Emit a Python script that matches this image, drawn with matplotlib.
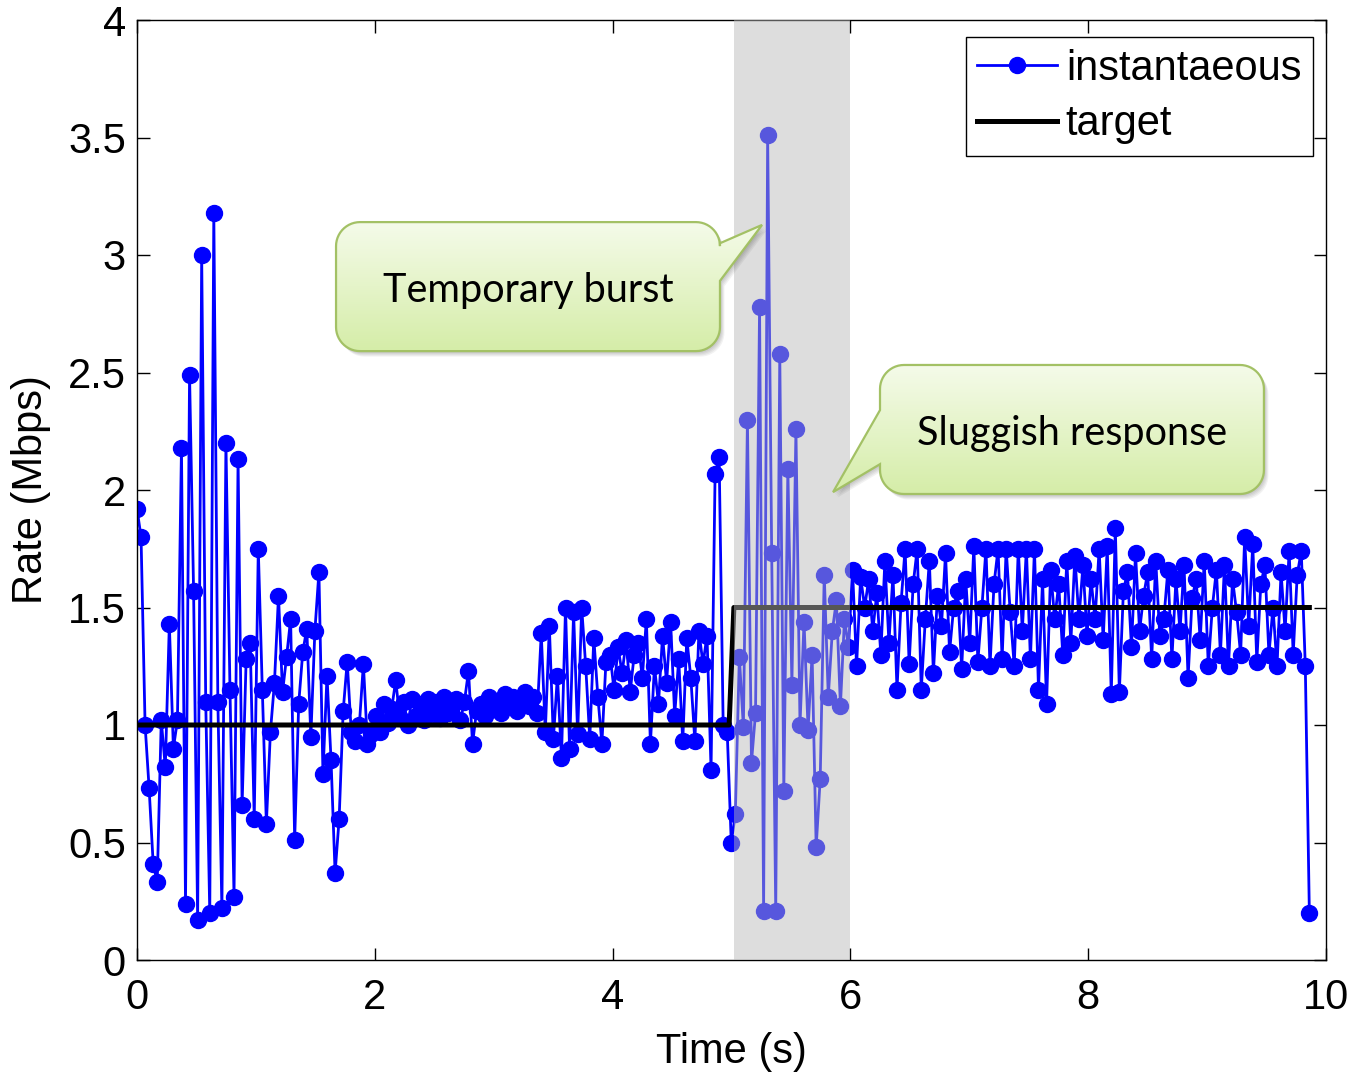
import numpy as np
import matplotlib
matplotlib.use('Agg')
import matplotlib.pyplot as plt
from matplotlib.patches import Polygon
from matplotlib.colors import LinearSegmentedColormap

# sampled rate (Mbps), one sample every sample_dt seconds
sample_dt = 0.034
rate_start = [1.92, 1.80, 1.00, 0.73, 0.41, 0.33, 1.02, 0.82, 1.43, 0.90,
              1.02, 2.18, 0.24, 2.49, 1.57, 0.17, 3.00, 1.10, 0.20, 3.18,
              1.10, 0.22, 2.20, 1.15, 0.27, 2.13, 0.66, 1.28, 1.35, 0.60,
              1.75, 1.15, 0.58, 0.97]
rate_settle = [1.18, 1.55, 1.14, 1.29, 1.45, 0.51, 1.09, 1.31, 1.41, 0.95,
               1.40, 1.65, 0.79, 1.21, 0.85, 0.37, 0.60, 1.06]
rate_steady1 = [1.27, 0.97, 0.93, 1.00, 1.26, 0.92, 0.96, 1.04, 0.97, 1.09,
                1.01, 1.07, 1.19, 1.03, 1.10, 1.00, 1.11, 1.04, 1.09, 1.02,
                1.11, 1.06, 1.10, 1.03, 1.12, 1.05, 1.08, 1.11, 1.02, 1.10,
                1.23, 0.92, 1.06, 1.09, 1.04, 1.12, 1.07, 1.10, 1.05, 1.13,
                1.08, 1.12, 1.06, 1.11, 1.14, 1.08, 1.12, 1.05]
rate_wobble = [1.39, 0.97, 1.42, 0.94, 1.21, 0.86, 1.50, 0.90, 1.48, 0.96,
               1.50, 1.25, 0.94, 1.37, 1.12, 0.92, 1.27, 1.30, 1.15, 1.33,
               1.22, 1.36, 1.14, 1.30, 1.35, 1.20, 1.45, 0.92, 1.25, 1.09,
               1.38, 1.18, 1.44, 1.04, 1.28, 0.93, 1.37, 1.20, 0.93, 1.40,
               1.26, 1.38, 0.81, 2.07, 2.14, 1.00, 0.97]
rate_burst = [0.50, 0.62, 1.29, 0.99, 2.30, 0.84, 1.05, 2.78, 0.21, 3.51,
              1.73, 0.21, 2.58, 0.72, 2.09, 1.17, 2.26, 1.00, 1.44, 0.98,
              1.30, 0.48, 0.77, 1.64, 1.12, 1.40, 1.53, 1.08, 1.45, 1.33]
rate_steady2 = [1.66, 1.25, 1.63, 1.50, 1.62, 1.40, 1.56, 1.30, 1.70, 1.35,
                1.64, 1.15, 1.52, 1.75, 1.26, 1.60, 1.75, 1.15, 1.45, 1.70,
                1.22, 1.55, 1.42, 1.73, 1.31, 1.50, 1.57, 1.24, 1.62, 1.35,
                1.76, 1.27, 1.50, 1.75, 1.25, 1.60, 1.75, 1.28, 1.75, 1.48,
                1.25, 1.75, 1.40, 1.75, 1.28, 1.75, 1.15, 1.62, 1.09, 1.66,
                1.45, 1.60, 1.30, 1.70, 1.35, 1.72, 1.45, 1.68, 1.38, 1.62,
                1.45, 1.75, 1.36, 1.76, 1.13, 1.84, 1.14, 1.57, 1.65, 1.33,
                1.73, 1.40, 1.55, 1.65, 1.28, 1.70, 1.38, 1.45, 1.66, 1.28,
                1.62, 1.40, 1.68, 1.20, 1.54, 1.62, 1.36, 1.70, 1.25, 1.50,
                1.66, 1.30, 1.68, 1.25, 1.62, 1.48, 1.30, 1.80, 1.42, 1.77,
                1.27, 1.60, 1.68, 1.30, 1.50, 1.25, 1.65, 1.40, 1.74, 1.30,
                1.64, 1.74, 1.25, 0.20]

target_t = [0, 4.98, 5.02, 9.86]
target_rate = [1.0, 1.0, 1.5, 1.5]

burst_window = (5.02, 6.0)

rate = np.array(rate_start + rate_settle + rate_steady1 + rate_wobble
                + rate_burst + rate_steady2)
t = np.arange(len(rate)) * sample_dt

plt.rcParams['font.family'] = ['Liberation Sans', 'DejaVu Sans']
FS = 30

fig = plt.figure(figsize=(13.53, 10.72), dpi=100)
ax = fig.add_axes([137 / 1353, 1 - 960 / 1072, 1189 / 1353, 940 / 1072])

ax.plot(t, rate, '-o', color='#0000ff', lw=2.0, ms=11.5, mec='#0000ff',
        label='instantaeous', zorder=2)
ax.plot(target_t, target_rate, color='black', lw=3.6, label='target', zorder=2.5)
ax.axvspan(*burst_window, color=(0.72, 0.72, 0.72), alpha=0.48, lw=0, zorder=3)

ax.set_xlim(0, 10)
ax.set_ylim(0, 4)
ax.set_xticks(np.arange(0, 11, 2))
ax.set_yticks(np.arange(0, 4.01, 0.5))
ax.set_yticklabels(['0', '0.5', '1', '1.5', '2', '2.5', '3', '3.5', '4'])
ax.tick_params(direction='in', length=9, width=1, top=True, right=True,
               labelsize=FS)
ax.tick_params(axis='x', pad=13)
ax.tick_params(axis='y', pad=8)
ax.set_xlabel('Time (s)', fontsize=FS, labelpad=10)
ax.set_ylabel('Rate (Mbps)', fontsize=FS, labelpad=12)
for s in ax.spines.values():
    s.set_linewidth(1)

leg = ax.legend(loc='upper right', bbox_to_anchor=(0.989, 0.982),
                borderaxespad=0, fontsize=FS, fancybox=False, framealpha=1,
                edgecolor='black', handlelength=1.9, handletextpad=0.22,
                labelspacing=0.38, borderpad=0.28)
leg.get_frame().set_linewidth(1)
leg.set_zorder(5)


def callout(ax, box, tip, base, side, label, r=24):
    x0, y0, x1, y1 = box
    p0 = ax.transData.transform((0, 0))
    p1 = ax.transData.transform((1, 1))
    sx, sy = p1[0] - p0[0], p1[1] - p0[1]
    rx, ry = r / sx, r / sy

    def arc(cx, cy, a0, a1):
        a = np.radians(np.linspace(a0, a1, 14))
        return list(zip(cx + rx * np.cos(a), cy + ry * np.sin(a)))

    pts = arc(x1 - rx, y1 - ry, 90, 0)
    if side == 'right':
        pts += [(x1, base[0]), tip, (x1, base[1])]
    pts += arc(x1 - rx, y0 + ry, 0, -90)
    pts += arc(x0 + rx, y0 + ry, -90, -180)
    if side == 'left':
        pts += [(x0, base[1]), tip, (x0, base[0])]
    pts += arc(x0 + rx, y1 - ry, 180, 90)
    pts = np.array(pts)

    # soft shadow
    for k in range(1, 6):
        ax.add_patch(Polygon(pts + [k * 0.9 / sx, -k * 1.1 / sy], closed=True,
                             fc='black', ec='none', alpha=0.05, zorder=6))
    cmap = LinearSegmentedColormap.from_list('g', ['#d5eda8', '#f5fbea'])
    grad = np.linspace(0, 1, 256)[:, None]
    im = ax.imshow(grad, extent=(pts[:, 0].min(), pts[:, 0].max(),
                                 pts[:, 1].min(), pts[:, 1].max()),
                   origin='lower', cmap=cmap, aspect='auto', zorder=7)
    poly = Polygon(pts, closed=True, fc='none', ec='#a3c165', lw=1.6, zorder=8)
    ax.add_patch(poly)
    im.set_clip_path(poly)
    ax.text((x0 + x1) / 2, (y0 + y1) / 2 - 0.015, label, fontsize=28.5,
            family=['Lato', 'DejaVu Sans'], ha='center', va='center', zorder=9)


callout(ax, (1.674, 2.591, 4.903, 3.14), (5.257, 3.128), (3.05, 2.89),
        'right', 'Temporary burst')
callout(ax, (6.249, 1.983, 9.478, 2.532), (5.854, 1.991), (2.34, 2.11),
        'left', 'Sluggish response')

ax.set_xlim(0, 10)
ax.set_ylim(0, 4)

fig.savefig('out.png', dpi=100)
